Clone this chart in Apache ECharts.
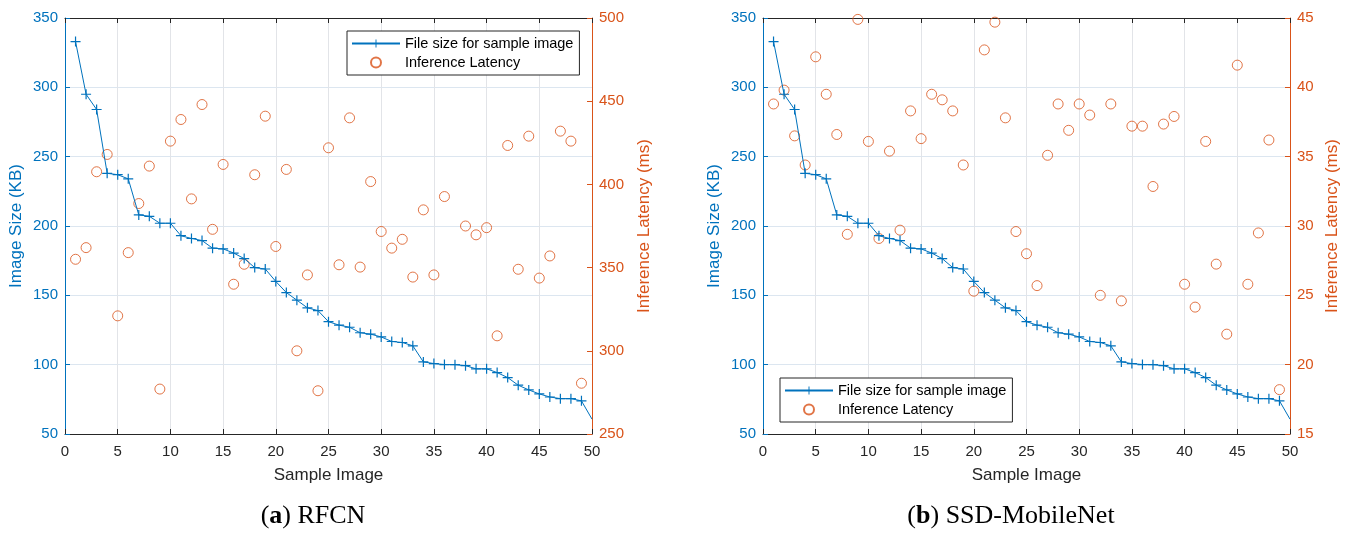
<!DOCTYPE html>
<html>
<head>
<meta charset="utf-8">
<script src="https://cdn.jsdelivr.net/npm/echarts@6/dist/echarts.min.js"></script>
<style>
  html, body { margin: 0; padding: 0; background: #fff; }
  #chart { width: 1352px; height: 536px; }
</style>
</head>
<body>
<div id="chart"></div>
<script>
// 样本图片文件大小 (KB)，两个模型相同
var fileSizeKB = [333, 295, 284, 238, 237, 234, 208, 207, 202, 202,
  193, 191, 189.5, 184, 183.5, 180.5, 176.5, 170, 169, 160,
  152, 146.5, 141, 139, 131, 128.5, 127, 123, 122, 120,
  116.7, 116, 113.6, 102, 100.8, 100.1, 100, 99.3, 97, 97,
  94.3, 90.7, 85.2, 81.8, 78.9, 76.7, 75.5, 75.5, 73.9, 60.7];

// RFCN 推理延迟 (ms)，null 为无数据
var latencyRFCN = [355, 362, 407.6, 418, 321, 359, 388.5, 411, 277, 426,
  439, 391.3, 448, 373, 412, 340, 352, 405.8, 441, 362.7,
  409, 300, 345.6, 276, 422, 351.7, 440, 350.3, 401.7, 371.7,
  361.7, 367, 344.3, 384.7, 345.6, 392.7, null, 375, 369.7, 374,
  309, 423.4, 349, 429, 343.7, 357, 432, 426, 280.5, null];

// SSD-MobileNet 推理延迟 (ms)
var latencySSD = [38.8, 39.8, 36.5, 34.4, 42.2, 39.5, 36.6, 29.4, 44.9, 36.1,
  29.1, 35.4, 29.7, 38.3, 36.3, 39.5, 39.1, 38.3, 34.4, 25.3,
  42.7, 44.7, 37.8, 29.6, 28.0, 25.7, 35.1, 38.8, 36.9, 38.8,
  38.0, 25.0, 38.8, 24.6, 37.2, 37.2, 32.85, 37.35, 37.9, 25.8,
  24.15, 36.1, 27.25, 22.2, 41.6, 25.8, 29.5, 36.2, 18.2, null];

var xTicks = { min: 0, max: 50, interval: 5 };
var sizeTicks = { min: 50, max: 350, interval: 50 };
var rfcnTicks = { min: 250, max: 500, interval: 50 };
var ssdTicks = { min: 15, max: 45, interval: 5 };

var blue = '#0072BD';
var orange = '#D95319';
var dark = '#262626';
var font = 'Liberation Sans, Arial, sans-serif';
var serif = 'Liberation Serif, serif';
var plusPath = 'path://M4.4,0H5.6V4.4H10V5.6H5.6V10H4.4V5.6H0V4.4H4.4Z';

function toPairs (arr, lastNoSymbol) {
  return arr.map(function (v, i) {
    if (v === null) return [i + 1, '-'];
    if (lastNoSymbol && i === arr.length - 1) {
      return { value: [i + 1, v], symbol: 'none' };
    }
    return [i + 1, v];
  });
}

function bottomX (gridIndex) {
  return {
    type: 'value', gridIndex: gridIndex,
    min: xTicks.min, max: xTicks.max, interval: xTicks.interval,
    name: 'Sample Image', nameLocation: 'middle', nameGap: 33,
    nameTextStyle: { color: dark, fontSize: 17, fontFamily: font },
    axisLine: { onZero: false, lineStyle: { color: dark, width: 1 } },
    axisTick: { inside: true, length: 5, lineStyle: { color: dark } },
    axisLabel: { color: dark, fontSize: 15, fontFamily: font, margin: 10 },
    splitLine: { show: true, lineStyle: { color: '#e2e4e8', width: 1 } }
  };
}

function topX (gridIndex) {
  return {
    type: 'value', gridIndex: gridIndex, position: 'top',
    min: xTicks.min, max: xTicks.max, interval: xTicks.interval,
    axisLine: { onZero: false, lineStyle: { color: dark, width: 1 } },
    axisTick: { inside: true, length: 5, lineStyle: { color: dark } },
    axisLabel: { show: false },
    splitLine: { show: false }
  };
}

function leftY (gridIndex, gap) {
  return {
    type: 'value', gridIndex: gridIndex, position: 'left',
    min: sizeTicks.min, max: sizeTicks.max, interval: sizeTicks.interval,
    name: 'Image Size (KB)', nameLocation: 'middle', nameGap: gap, nameRotate: 90,
    nameTextStyle: { color: blue, fontSize: 17, fontFamily: font },
    axisLine: { show: true, onZero: false, lineStyle: { color: blue, width: 1 } },
    axisTick: { show: true, inside: true, length: 5, lineStyle: { color: blue } },
    axisLabel: { color: blue, fontSize: 15, fontFamily: font, margin: 7 },
    splitLine: { show: true, lineStyle: { color: '#dce6f0', width: 1 } }
  };
}

function rightY (gridIndex, ticks, gap) {
  return {
    type: 'value', gridIndex: gridIndex, position: 'right',
    min: ticks.min, max: ticks.max, interval: ticks.interval,
    name: 'Inference Latency (ms)', nameLocation: 'middle', nameGap: gap, nameRotate: 90,
    nameTextStyle: { color: orange, fontSize: 17, fontFamily: font },
    axisLine: { show: true, onZero: false, lineStyle: { color: orange, width: 1 } },
    axisTick: { show: true, inside: true, length: 5, lineStyle: { color: orange } },
    axisLabel: { color: orange, fontSize: 15, fontFamily: font, margin: 7 },
    splitLine: { show: false }
  };
}

function sizeSeries (xi, yi) {
  return {
    name: 'File size for sample image', type: 'line',
    xAxisIndex: xi, yAxisIndex: yi,
    data: toPairs(fileSizeKB, true),
    symbol: plusPath, symbolSize: 10, showSymbol: true,
    lineStyle: { color: blue, width: 1 },
    itemStyle: { color: blue },
    animation: false, z: 3
  };
}

function latencySeries (xi, yi, data) {
  return {
    name: 'Inference Latency', type: 'scatter',
    xAxisIndex: xi, yAxisIndex: yi,
    data: toPairs(data, false),
    symbol: 'circle', symbolSize: 10,
    itemStyle: { color: 'rgba(0,0,0,0)', borderColor: orange, borderWidth: 1 },
    animation: false, z: 2
  };
}

function legendAt (left, top) {
  return {
    left: left, top: top, orient: 'vertical',
    data: ['File size for sample image', 'Inference Latency'],
    backgroundColor: '#fff', borderColor: dark, borderWidth: 1,
    padding: [4, 6, 4, 4], itemGap: 2,
    itemWidth: 48, itemHeight: 10,
    textStyle: { color: '#000', fontSize: 14.5, fontFamily: font, lineHeight: 17 },
    selectedMode: false
  };
}

function caption (cx, letter, label) {
  return {
    type: 'text', x: cx, y: 503,
    style: {
      text: '{b|(}{bb|' + letter + '}{b|) ' + label + '}',
      textAlign: 'center',
      rich: {
        b: { fontFamily: serif, fontSize: 26, fill: '#000' },
        bb: { fontFamily: serif, fontSize: 26, fontWeight: 'bold', fill: '#000' }
      }
    }
  };
}

var chart = echarts.init(document.getElementById('chart'));
var option = {
  backgroundColor: '#fff',
  animation: false,
  grid: [
    { left: 65, top: 18, width: 527, height: 416 },
    { left: 763, top: 18, width: 527, height: 416 }
  ],
  xAxis: [bottomX(0), bottomX(1), topX(0), topX(1)],
  yAxis: [leftY(0, 40), rightY(0, rfcnTicks, 44), leftY(1, 40), rightY(1, ssdTicks, 34)],
  legend: [legendAt(347, 31), legendAt(780, 378)],
  series: [
    sizeSeries(0, 0),
    latencySeries(0, 1, latencyRFCN),
    sizeSeries(1, 2),
    latencySeries(1, 3, latencySSD)
  ],
  graphic: [
    caption(313, 'a', 'RFCN'),
    caption(1011, 'b', 'SSD-MobileNet')
  ]
};
chart.setOption(option, true);
</script>
</body>
</html>
